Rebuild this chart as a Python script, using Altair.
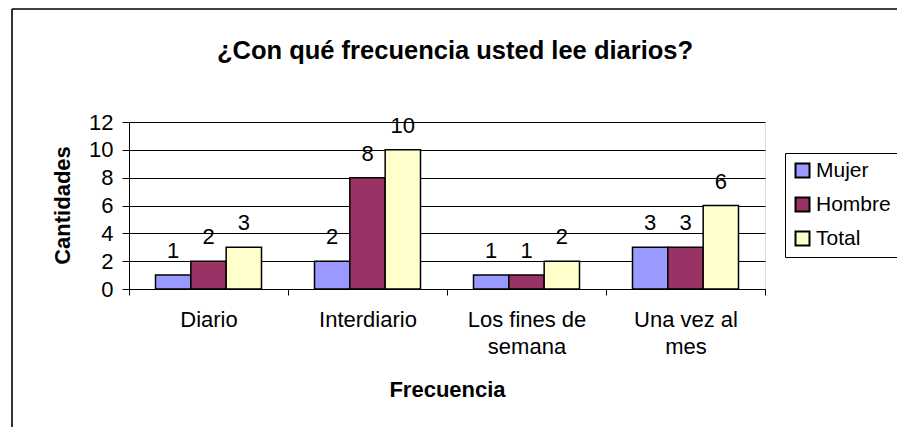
import altair as alt
import pandas as pd

categories = ["Diario", "Interdiario", "Los fines de semana", "Una vez al mes"]
category_lines = [["Diario"], ["Interdiario"], ["Los fines de", "semana"], ["Una vez al", "mes"]]
series = ["Mujer", "Hombre", "Total"]
mujer = [1, 2, 1, 3]
hombre = [2, 8, 1, 3]
total = [3, 10, 2, 6]
colors = ["#9999FF", "#993366", "#FFFFCC"]
y_ticks = [0, 2, 4, 6, 8, 10, 12]

rows = []
for i, c in enumerate(categories):
    for s, vals in zip(series, [mujer, hombre, total]):
        rows.append({"Frecuencia": c, "Serie": s, "Cantidad": vals[i]})
df = pd.DataFrame(rows)

FONT = "Liberation Sans, Arial"
LBL = 22

# label expression for wrapped category labels
parts = []
for c, lines in zip(categories, category_lines):
    if len(lines) > 1:
        arr = "[" + ",".join("'" + l + "'" for l in lines) + "]"
        parts.append(f"datum.value == '{c}' ? {arr} : ")
label_expr = "".join(parts) + "datum.value"

x_enc = alt.X(
    "Frecuencia:N",
    sort=categories,
    scale=alt.Scale(paddingInner=0, paddingOuter=0),
    axis=alt.Axis(
        title="Frecuencia",
        labelAngle=0,
        labelExpr=label_expr,
        labelFont=FONT,
        labelFontSize=LBL,
        labelColor="black",
        labelPadding=14,
        labelLineHeight=27,
        labelBaseline="top",
        labelOverlap=False,
        tickBand="extent",
        tickSize=6,
        tickColor="black",
        domainColor="black",
        grid=False,
        titleFont=FONT,
        titleFontSize=22,
        titleFontWeight="bold",
        titleColor="black",
        titleX=318,
        titleY=100,
        titleAlign="center",
        titleBaseline="middle",
    ),
)
xoff = alt.XOffset("Serie:N", sort=series, scale=alt.Scale(paddingInner=0, paddingOuter=0.75))
y_enc = alt.Y(
    "Cantidad:Q",
    scale=alt.Scale(domain=[0, 12], nice=False),
    axis=alt.Axis(
        title="Cantidades",
        values=y_ticks,
        tickCount=7,
        labelOverlap=False,
        labelFont=FONT,
        labelFontSize=LBL,
        labelColor="black",
        labelPadding=9,
        tickSize=7,
        tickColor="black",
        domainColor="black",
        gridColor="black",
        gridWidth=1,
        titleFont=FONT,
        titleFontSize=22,
        titleFontWeight="bold",
        titleColor="black",
        titleAngle=-90,
        titleX=-67,
        titleY=83,
        titleAlign="center",
        titleBaseline="middle",
    ),
)

bars = alt.Chart(df).mark_bar(stroke="black", strokeWidth=1.5).encode(
    x=x_enc,
    xOffset=xoff,
    y=y_enc,
    color=alt.Color(
        "Serie:N",
        sort=series,
        scale=alt.Scale(domain=series, range=colors),
        legend=alt.Legend(
            title=None,
            orient="none",
            legendX=656,
            legendY=31,
            strokeColor="black",
            fillColor="white",
            padding=7,
            labelFont=FONT,
            labelFontSize=21,
            labelColor="black",
            symbolType="square",
            symbolSize=196,
            symbolStrokeColor="black",
            symbolStrokeWidth=2,
            symbolOpacity=1,
            rowPadding=11,
            labelOffset=3,
        ),
    ),
)

labels = alt.Chart(df).mark_text(
    font=FONT, fontSize=LBL, color="black", baseline="alphabetic", dy=-17
).encode(
    x=alt.X("Frecuencia:N", sort=categories),
    xOffset=alt.XOffset("Serie:N", sort=series),
    y="Cantidad:Q",
    text="Cantidad:Q",
)

frame_data = alt.Data(values=[{"k": 1}])
left_line = alt.Chart(frame_data).mark_rule(color="#333333", strokeWidth=2).encode(
    x=alt.value(-117), y=alt.value(-113), y2=alt.value(305)
)
top_line = alt.Chart(frame_data).mark_rule(color="black", strokeWidth=1.5).encode(
    x=alt.value(-117), x2=alt.value(768), y=alt.value(-113)
)

chart = alt.layer(bars, labels, left_line, top_line).properties(
    width=636,
    height=167,
    title=alt.TitleParams(
        "¿Con qué frecuencia usted lee diarios?",
        font=FONT,
        fontSize=25.5,
        fontWeight="bold",
        color="black",
        anchor="middle",
        frame="group",
        baseline="bottom",
        dx=8,
        dy=81,
        offset=0,
    ),
    autosize=alt.AutoSizeParams(type="none"),
    padding={"left": 121, "top": 114, "right": 132, "bottom": 138},
).configure_view(
    fill="#C0C0C0", stroke="#808080", strokeWidth=1.5
).configure(background="white")

chart.save("out.html", embed_options={"renderer": "svg", "actions": False})
